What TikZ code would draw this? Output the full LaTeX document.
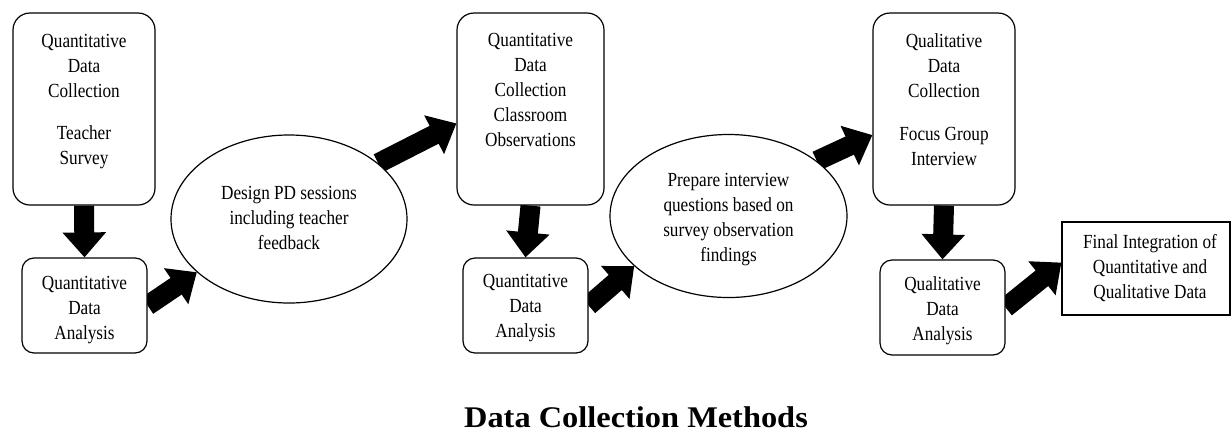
\documentclass[tikz,border=0pt]{standalone}
\usepackage{fontspec}
\setmainfont{Liberation Serif}
\newfontfamily\bodyfont[FakeStretch=0.86]{Liberation Serif}
\newfontfamily\headfont[FakeStretch=1.08]{Liberation Serif}
\usetikzlibrary{shapes.geometric,arrows.meta,calc}
\pgfdeclarelayer{background}
\pgfsetlayers{background,main}

\begin{document}
\begin{tikzpicture}[x=1pt,y=-1pt,
  tallbox/.style={draw, line width=1.2pt, fill=white, rounded corners=17pt,
    inner sep=0pt, minimum height=192pt},
  smallbox/.style={draw, line width=1.2pt, fill=white, rounded corners=12pt,
    inner sep=0pt, minimum width=125pt, minimum height=95pt},
  oval/.style={draw, line width=1.2pt, fill=white, ellipse, inner sep=0pt},
  plainbox/.style={draw, line width=1.2pt, fill=white, inner sep=0pt},
  txt/.style={font=\bodyfont\fontsize{20}{25}\selectfont, align=center,
    inner sep=0pt, anchor=north},
  bigarrow/.style={line width=20pt, -{Triangle[length=25pt,width=42pt]}},
]
\useasboundingbox (0,0) rectangle (1231,432);

% process boxes
\node[tallbox, minimum width=142pt] (A) at (84,109) {};
\node[smallbox] (B) at (84.5,305.5) {};
\node[oval, minimum width=236pt, minimum height=168pt] (E1) at (289,219) {};
\node[tallbox, minimum width=147pt] (C) at (530.5,109) {};
\node[smallbox] (D) at (525.5,305.5) {};
\node[oval, minimum width=237pt, minimum height=163pt] (E2) at (728.5,216) {};
\node[tallbox, minimum width=142pt] (E) at (944,109) {};
\node[smallbox] (F) at (942.5,307.5) {};
\node[plainbox, minimum width=168pt, minimum height=93pt] (G) at (1146,268.5) {};

% box texts
\node[txt] (At) at (84,34) {Quantitative\\Data\\Collection\\[17pt]Teacher\\Survey};
\node[txt] (Bt) at (84.5,276) {Quantitative\\Data\\Analysis};
\node[txt] (E1t) at (289,186) {Design PD sessions\\including teacher\\feedback};
\node[txt] (Ct) at (530.5,33) {Quantitative\\Data\\Collection\\Classroom\\Observations};
\node[txt] (Dt) at (525.5,274) {Quantitative\\Data\\Analysis};
\node[txt] (E2t) at (728.5,173) {Prepare interview\\questions based on\\survey observation\\findings};
\node[txt] (Et) at (944,33) {Qualitative\\Data\\Collection\\[18pt]Focus Group\\Interview};
\node[txt] (Ft) at (942.5,276) {Qualitative\\Data\\Analysis};
\node[txt] (Gt) at (1150,234) {Final Integration of\\Quantitative and\\Qualitative Data};

% caption
\node[font=\headfont\bfseries\fontsize{30}{36}\selectfont, inner sep=0pt, anchor=base]
  (title) at (636,427) {Data Collection Methods};

% flow arrows, kept behind the boxes
\begin{pgfonlayer}{background}
\draw[bigarrow] (A.south) -- (B.north);
\draw[bigarrow] (B.east) -- (E1.210);
\draw[bigarrow] (E1.32) -- (C.191);
\draw[bigarrow] (C.south) -- (D.north);
\draw[bigarrow] (D.east) -- (E2.208);
\draw[bigarrow] (E2.32) -- (E.200);
\draw[bigarrow] (E.south) -- (F.north);
\draw[bigarrow] (F.east) -- (G.176);
\end{pgfonlayer}
\end{tikzpicture}
\end{document}
